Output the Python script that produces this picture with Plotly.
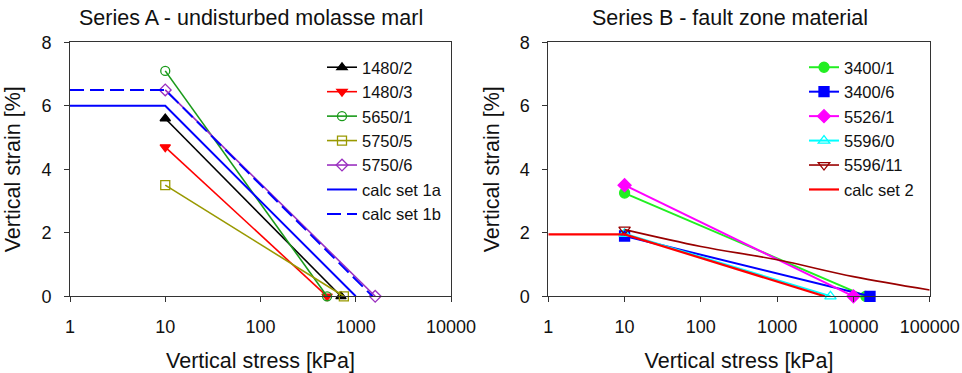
import plotly.graph_objects as go

W, H = 962, 373

# ---- Series A data ----
a_names = ["1480/2", "1480/3", "5650/1", "5750/5", "5750/6"]
a_x = [[10, 700], [10, 500], [10, 500], [10, 750], [10, 1600]]
a_y = [[5.6, 0], [4.7, 0], [7.1, 0], [3.5, 0], [6.5, 0]]
a_colors = ["#000000", "#ff0000", "#1a9a1a", "#999900", "#9b30c0"]
a_symbols = ["triangle-up", "triangle-down", "circle-open", "square-open", "diamond-open"]

calc1a_x = [1, 10, 1000]
calc1a_y = [6.0, 6.0, 0]
calc1b_x = [1, 10, 1500]
calc1b_y = [6.5, 6.5, 0]

# ---- Series B data ----
b_names = ["3400/1", "3400/6", "5526/1", "5596/0"]
b_x = [[10, 14500], [10, 16500], [10, 10000], [10, 5000]]
b_y = [[3.25, 0], [1.9, 0], [3.5, 0], [1.97, 0]]
b_colors = ["#22ee22", "#0000ff", "#ff00ff", "#00ffff"]
b_symbols = ["circle", "square", "diamond", "triangle-up-open"]

b11_name = "5596/11"
b11_x = [10, 100, 1000, 10000, 100000]
b11_y = [2.1, 1.57, 1.15, 0.62, 0.2]
b11_color = "#990000"

calc2_x = [1, 10, 4200]
calc2_y = [1.95, 1.95, 0]

x_tick_a = [1, 10, 100, 1000, 10000]
x_tick_b = [1, 10, 100, 1000, 10000, 100000]
y_ticks = [0, 2, 4, 6, 8]

FONT = "Liberation Sans, Arial, sans-serif"
TXT = "#111111"

fig = go.Figure()

for n, xs, ys, c, s in zip(a_names, a_x, a_y, a_colors, a_symbols):
    fig.add_trace(go.Scatter(x=xs, y=ys, name=n, mode="lines+markers",
                             line=dict(color=c, width=1.6),
                             marker=dict(symbol=s, size=9, color=c, line=dict(color=c, width=1.3)),
                             cliponaxis=False, xaxis="x", yaxis="y", legend="legend"))
fig.add_trace(go.Scatter(x=calc1a_x, y=calc1a_y, name="calc set 1a", mode="lines",
                         line=dict(color="#0000ff", width=2), xaxis="x", yaxis="y", legend="legend"))
fig.add_trace(go.Scatter(x=calc1b_x, y=calc1b_y, name="calc set 1b", mode="lines",
                         line=dict(color="#0000ff", width=2, dash="14px,6px"), xaxis="x", yaxis="y",
                         legend="legend"))

for n, xs, ys, c, s in zip(b_names, b_x, b_y, b_colors, b_symbols):
    fig.add_trace(go.Scatter(x=xs, y=ys, name=n, mode="lines+markers",
                             line=dict(color=c, width=2),
                             marker=dict(symbol=s, size=10, color=c, line=dict(color=c, width=1.3)),
                             cliponaxis=False, xaxis="x2", yaxis="y2", legend="legend2"))
# 5596/11: curve plus marker at first point
fig.add_trace(go.Scatter(x=b11_x[:1], y=b11_y[:1], name=b11_name, mode="lines+markers",
                         legendgroup="b11",
                         line=dict(color=b11_color, width=1.6),
                         marker=dict(symbol="triangle-down-open", size=10, color=b11_color,
                                     line=dict(color=b11_color, width=1.3)),
                         cliponaxis=False, xaxis="x2", yaxis="y2", legend="legend2"))
fig.add_trace(go.Scatter(x=b11_x, y=b11_y, name=b11_name, mode="lines", legendgroup="b11",
                         showlegend=False, line=dict(color=b11_color, width=1.6, shape="spline"),
                         xaxis="x2", yaxis="y2"))
fig.add_trace(go.Scatter(x=calc2_x, y=calc2_y, name="calc set 2", mode="lines",
                         line=dict(color="#ff0000", width=2.2), xaxis="x2", yaxis="y2", legend="legend2"))

x0a, x1a = 70 / W, 451 / W
x0b, x1b = 548.3 / W, 929.7 / W
y0, y1 = 1 - 296.3 / H, 1 - 42.3 / H

axis_common = dict(showgrid=False, zeroline=False, showline=True, linecolor="#333333",
                   linewidth=1, mirror=True, ticks="outside", ticklen=5, tickcolor="#333333",
                   ticklabelstandoff=9, automargin=False,
                   tickfont=dict(family=FONT, size=18, color=TXT))
xtitle = dict(text="Vertical stress [kPa]", font=dict(size=21.5, color=TXT), standoff=17)
ytitle = dict(text="Vertical strain [%]", font=dict(size=21.5, color=TXT), standoff=14)
leg_common = dict(xanchor="left", yanchor="top", bgcolor="rgba(0,0,0,0)",
                  font=dict(family=FONT, size=16.5, color=TXT), tracegroupgap=0, itemwidth=30)

fig.update_layout(
    width=W, height=H, margin=dict(l=0, r=0, t=0, b=0),
    paper_bgcolor="white", plot_bgcolor="white",
    font=dict(family=FONT, color=TXT),
    xaxis=dict(type="log", range=[0, 4], domain=[x0a, x1a], anchor="y",
               tickvals=x_tick_a, ticktext=[str(v) for v in x_tick_a], title=xtitle, **axis_common),
    yaxis=dict(range=[0, 8], domain=[y0, y1], anchor="x", tickvals=y_ticks, title=ytitle, **axis_common),
    xaxis2=dict(type="log", range=[0, 5], domain=[x0b, x1b], anchor="y2",
                tickvals=x_tick_b, ticktext=[str(v) for v in x_tick_b], title=xtitle, **axis_common),
    yaxis2=dict(range=[0, 8], domain=[y0, y1], anchor="x2", tickvals=y_ticks, title=ytitle, **axis_common),
    legend=dict(x=322 / W, y=1 - 50 / H, **leg_common),
    legend2=dict(x=804 / W, y=1 - 50 / H, **leg_common),
    showlegend=True,
    annotations=[
        dict(text="Series A - undisturbed molasse marl", x=251 / W, y=1 - 18 / H, xref="paper", yref="paper",
             xanchor="center", yanchor="middle", showarrow=False, font=dict(family=FONT, size=21.5, color=TXT)),
        dict(text="Series B - fault zone material", x=730 / W, y=1 - 18 / H, xref="paper", yref="paper",
             xanchor="center", yanchor="middle", showarrow=False, font=dict(family=FONT, size=21.5, color=TXT)),
    ],
)

fig.write_html("out.html")
